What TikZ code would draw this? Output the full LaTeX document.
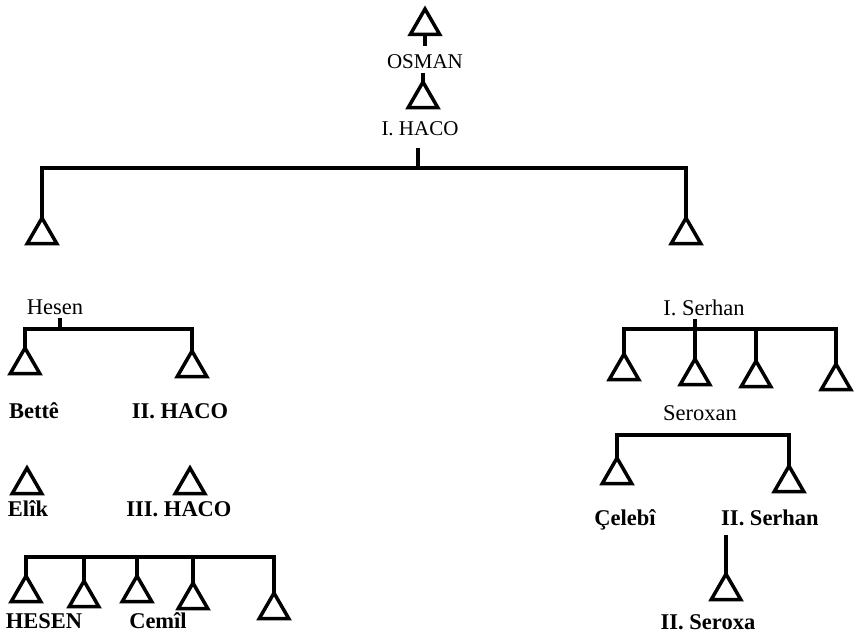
\documentclass[tikz,border=0pt]{standalone}
\usepackage{fontspec}
\setmainfont{Liberation Serif}
\usetikzlibrary{shapes.geometric}
\begin{document}
\begin{tikzpicture}[x=1pt,y=-1pt,
  person/.style={regular polygon, regular polygon sides=3, draw, line width=3.5pt,
    minimum size=34pt, inner sep=0pt, outer sep=0pt, anchor=corner 1},
  lbl/.style={font=\fontsize{21}{25}\selectfont, anchor=base, inner sep=0pt},
  llbl/.style={font=\fontsize{22.5}{26}\selectfont, anchor=base, inner sep=0pt},
  blbl/.style={font=\fontsize{22.5}{26}\selectfont\bfseries, anchor=base, inner sep=0pt},
  link/.style={line width=3.2pt}]
\useasboundingbox (0,0) rectangle (857,634);
% top
\node[person] (top) at (425,9) {};
\coordinate (s0) at (425,46);
\draw[link] (top.south) -- (s0);
\node[lbl] (osman) at (425,69) {OSMAN};
\coordinate (s0b) at (423,73);
\node[person] (p0) at (423,82) {};
\draw[link] (s0b) -- (p0.corner 1);
\node[lbl] (haco1) at (420,135) {I. HACO};
\coordinate (s1) at (418,148);
\coordinate (b1) at (418,168);
\draw[link] (s1) -- (b1);
\node[person] (hesen) at (42,218) {};
\node[person] (serhan) at (686,218) {};
\draw[link] (hesen.corner 1) |- (b1) -| (serhan.corner 1);
% left branch
\node[llbl] (hesenL) at (55,314) {Hesen};
\coordinate (s2) at (60,318);
\coordinate (b2) at (60,329);
\draw[link] (s2) -- (b2);
\node[person] (bette) at (25,348) {};
\node[person] (haco2) at (192,351) {};
\draw[link] (bette.corner 1) |- (b2) -| (haco2.corner 1);
\node[blbl] (betteL) at (34,418) {Bettê};
\node[blbl] (haco2L) at (180,418) {II. HACO};
\node[person] (elik) at (27,468) {};
\node[person] (haco3) at (190,468) {};
\node[blbl] (elikL) at (28,516) {Elîk};
\node[blbl] (haco3L) at (179,516) {III. HACO};
\coordinate (b3) at (137,557);
\node[person] (c1) at (26,576) {};
\node[person] (c2) at (84,581) {};
\node[person] (c3) at (137,576) {};
\node[person] (c4) at (193,583) {};
\node[person] (c5) at (274,593) {};
\draw[link] (c1.corner 1) |- (b3) -| (c5.corner 1);
\draw[link] (c2.corner 1) -- (c2.corner 1 |- b3);
\draw[link] (c3.corner 1) -- (b3);
\draw[link] (c4.corner 1) -- (c4.corner 1 |- b3);
\node[blbl] (hesen2) at (44,628) {HESEN};
\node[blbl] (cemil) at (158,628) {Cemîl};
% right branch
\node[llbl] (serhanL) at (704,315) {I. Serhan};
\coordinate (s4) at (695,319);
\coordinate (b4) at (695,329);
\node[person] (r1) at (624,354) {};
\node[person] (r2) at (695,359) {};
\node[person] (r3) at (756,361) {};
\node[person] (r4) at (836,364) {};
\draw[link] (s4) -- (r2.corner 1);
\draw[link] (r1.corner 1) |- (b4) -| (r4.corner 1);
\draw[link] (r3.corner 1) -- (r3.corner 1 |- b4);
\node[llbl] (seroxan) at (700,420) {Seroxan};
\coordinate (b5) at (700,435);
\node[person] (celebi) at (617,458) {};
\node[person] (serhan2) at (789,466) {};
\draw[link] (celebi.corner 1) |- (b5) -| (serhan2.corner 1);
\node[blbl] (celebiL) at (625,525) {Çelebî};
\node[blbl] (serhan2L) at (770,525) {II. Serhan};
\coordinate (s6) at (726,535);
\node[person] (seroxa) at (726,574) {};
\draw[link] (s6) -- (seroxa.corner 1);
\node[blbl] (seroxaL) at (708,629) {II. Seroxa};
\end{tikzpicture}
\end{document}
